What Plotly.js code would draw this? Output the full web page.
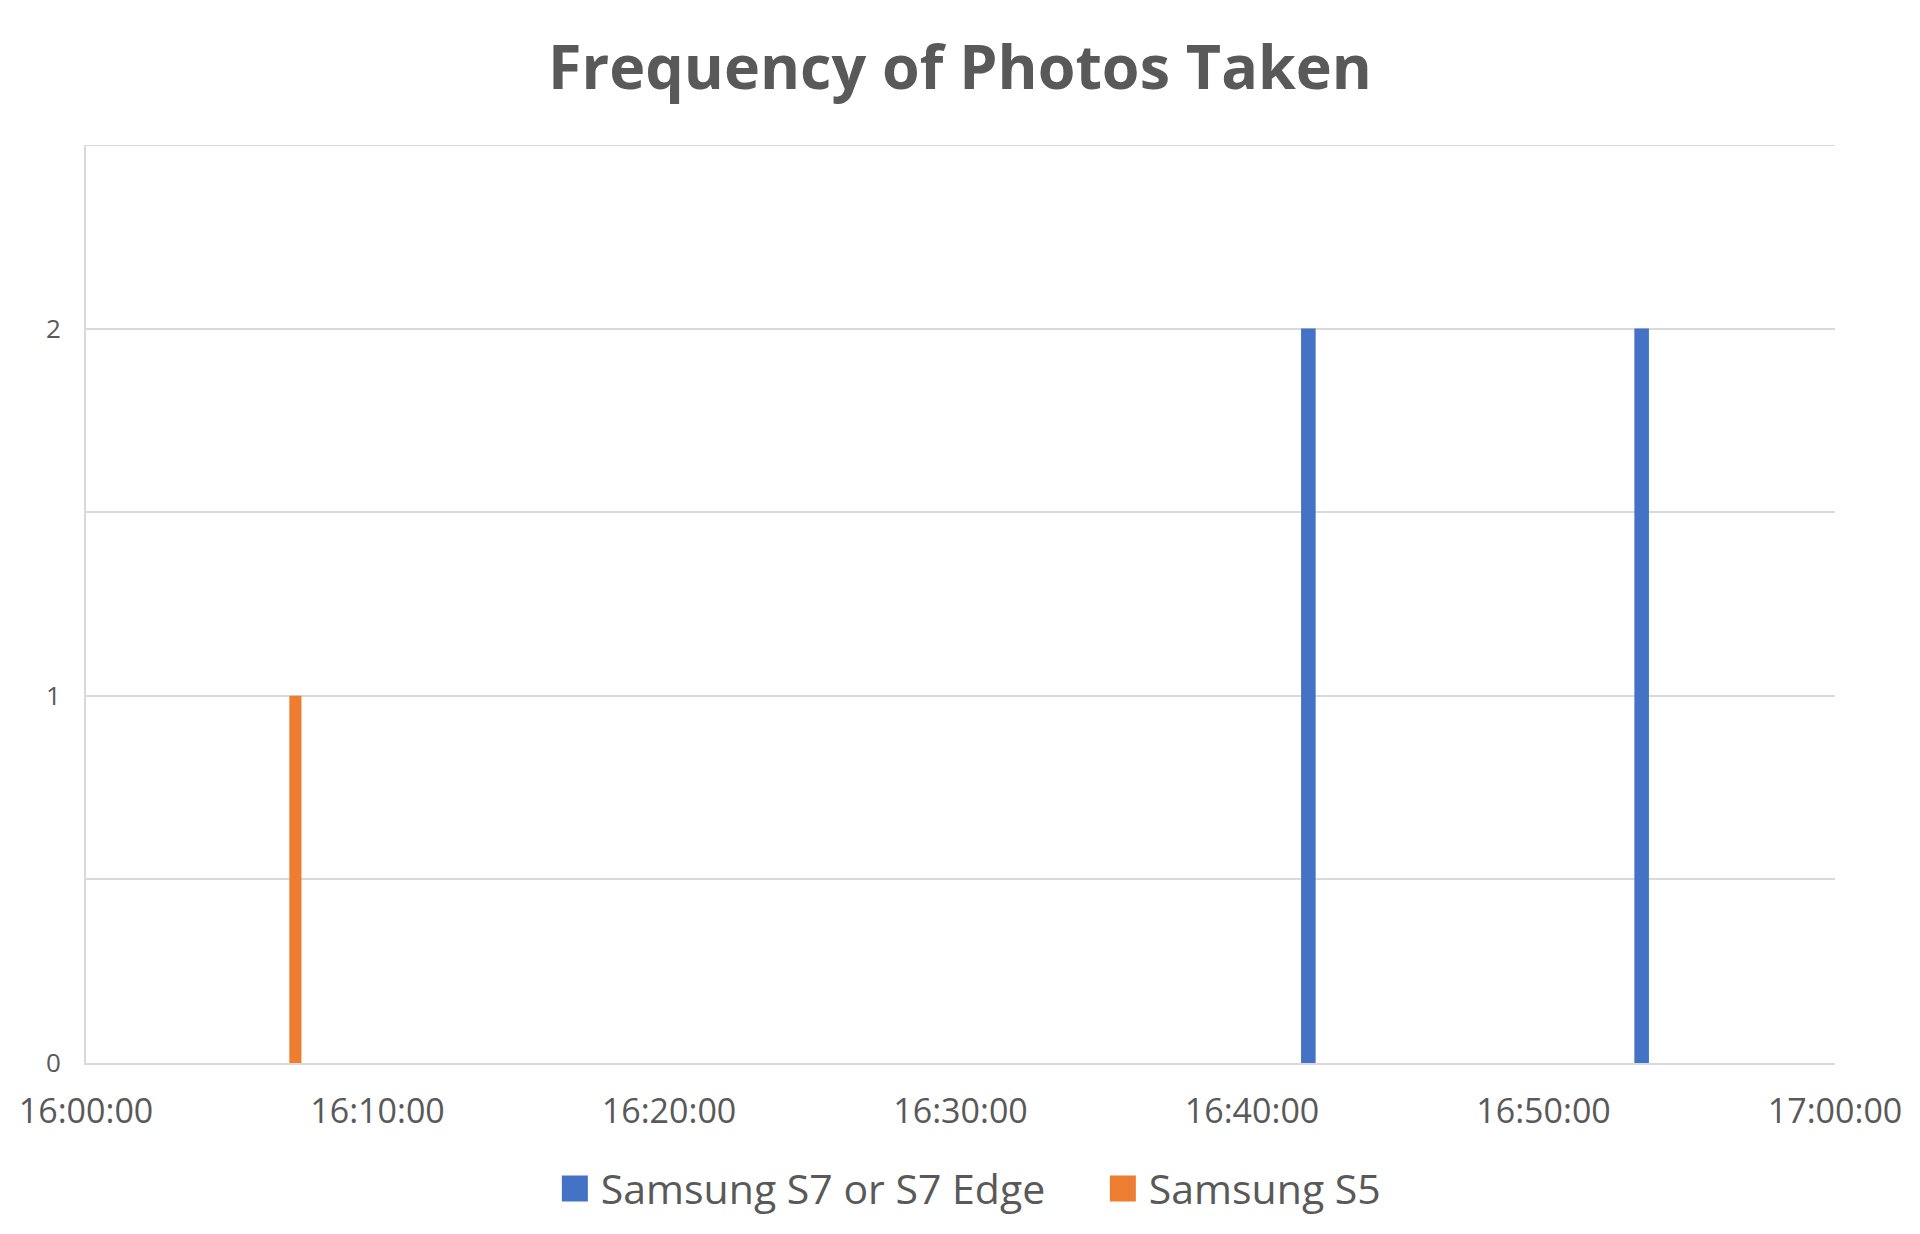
<!DOCTYPE html>
<html>
<head>
<meta charset="utf-8">
<script src="https://cdn.plot.ly/plotly-3.0.1.min.js"></script>
<style>
  html, body { margin: 0; padding: 0; background: #fff; }
  #chart { width: 1920px; height: 1234px; }
</style>
</head>
<body>
<div id="chart"></div>
<script>
// photo times (same day, 16:00 - 17:00)
const s7Times = ['2017-01-01 16:41:56', '2017-01-01 16:53:22'];
const s7Counts = [2, 2];
const s5Times = ['2017-01-01 16:07:11'];
const s5Counts = [1];

const seriesNames = ['Samsung S7 or S7 Edge', 'Samsung S5'];
const xStart = '2017-01-01 16:00:00';
const xEnd = '2017-01-01 17:00:00';

const gray = '#595959';
const grid = '#d9d9d9';
const font = 'Open Sans, Noto Sans, sans-serif';

const traces = [
  {
    type: 'bar', name: seriesNames[0],
    x: s7Times, y: s7Counts,
    width: 30000,
    marker: { color: '#4472c4' }
  },
  {
    type: 'bar', name: seriesNames[1],
    x: s5Times, y: s5Counts,
    width: 25000,
    marker: { color: '#ed7d31' }
  }
];

const layout = {
  width: 1920, height: 1234,
  margin: { l: 86, r: 85, t: 145, b: 169 },
  paper_bgcolor: '#fff', plot_bgcolor: '#fff',
  font: { family: font, color: gray },
  title: {
    text: '<b>Frequency of Photos Taken</b>',
    font: { family: font, size: 61, color: gray },
    x: 0.5, xanchor: 'center', y: 0.945, yanchor: 'middle'
  },
  barmode: 'overlay',
  showlegend: true,
  legend: {
    orientation: 'h', x: 0.2715, xanchor: 'left', y: -0.137, yanchor: 'middle',
    font: { family: font, size: 41, color: gray },
    itemwidth: 30, entrywidth: 503
  },
  xaxis: {
    type: 'date',
    range: [xStart, xEnd],
    dtick: 600000, tick0: xStart,
    tickformat: '%H:%M:%S',
    tickfont: { family: font, size: 34, color: gray },
    showgrid: false,
    showline: true, linecolor: grid, linewidth: 2,
    ticks: 'outside', ticklen: 17, tickcolor: 'rgba(0,0,0,0)',
    zeroline: false
  },
  yaxis: {
    range: [0, 2.5],
    dtick: 1, tick0: 0,
    tickfont: { family: font, size: 26, color: gray },
    showgrid: true, gridcolor: grid, gridwidth: 2,
    minor: { dtick: 0.5, showgrid: true, gridcolor: grid, gridwidth: 2 },
    showline: true, linecolor: grid, linewidth: 2,
    ticks: 'outside', ticklen: 18, tickcolor: 'rgba(0,0,0,0)',
    zeroline: false
  },
  shapes: [
    { type: 'line', xref: 'paper', yref: 'y', x0: 0, x1: 1, y0: 2.5, y1: 2.5,
      line: { color: grid, width: 2 }, layer: 'below' }
  ]
};

Plotly.newPlot('chart', traces, layout, { displayModeBar: false, staticPlot: true })
  .then(gd => {
    // Excel-style bigger legend squares (path sits at translate(20,0) in the entry)
    gd.querySelectorAll('.legendpoints path').forEach(p => {
      p.setAttribute('d', 'M-19,-13H7V13H-19Z');
    });
  });
</script>
</body>
</html>
